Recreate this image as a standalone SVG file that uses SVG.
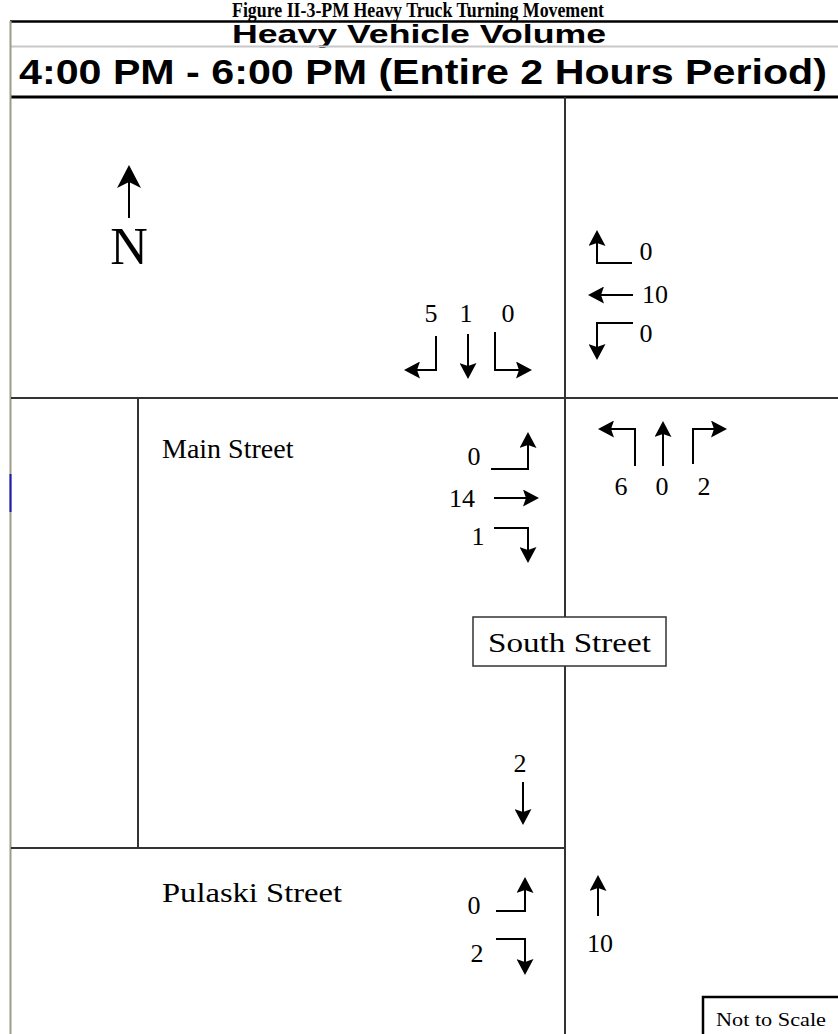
<svg xmlns="http://www.w3.org/2000/svg" width="838" height="1034" viewBox="0 0 838 1034">
<style>
.frame{stroke:#000;stroke-width:2.5;fill:none}
.road{stroke:#333;stroke-width:2;fill:none}
.arr{stroke:#000;stroke-width:2;fill:none;marker-end:url(#ah)}
.num{font-family:"Liberation Serif","Times New Roman",serif;font-size:26px;fill:#000;text-anchor:middle}
.lbl{font-family:"Liberation Serif","Times New Roman",serif;font-size:28px;fill:#000}
</style>
<defs>
<marker id="ah" markerUnits="userSpaceOnUse" viewBox="0 0 16 17" markerWidth="16" markerHeight="17" refX="8" refY="8.5" orient="auto">
<path d="M0,0 L16,8.5 L0,17 L3,8.5 z" fill="#000"/>
</marker>
</defs>
<rect width="838" height="1034" fill="#fff"/>
<g id="header">
<text x="418" y="17" font-family="Liberation Serif, Times New Roman, serif" font-weight="bold" font-size="20" text-anchor="middle" textLength="372" lengthAdjust="spacingAndGlyphs">Figure II-3-PM Heavy Truck Turning Movement</text>
<line class="frame" x1="10" y1="21.5" x2="838" y2="21.5"/>
<text x="419" y="43" font-family="Liberation Sans, Arial, sans-serif" font-weight="bold" font-size="25" text-anchor="middle" textLength="374" lengthAdjust="spacingAndGlyphs">Heavy Vehicle Volume</text>
<line x1="11" y1="46.5" x2="838" y2="46.5" stroke="#c8c8c8" stroke-width="2"/>
<text x="423" y="84" font-family="Liberation Sans, Arial, sans-serif" font-weight="bold" font-size="35" text-anchor="middle" textLength="808" lengthAdjust="spacingAndGlyphs">4:00 PM - 6:00 PM (Entire 2 Hours Period)</text>
<line x1="10" y1="97" x2="838" y2="97" stroke="#000" stroke-width="3"/>
<line x1="10.5" y1="21" x2="10.5" y2="1034" stroke="#9c9c88" stroke-width="2"/>
<line x1="10.5" y1="474" x2="10.5" y2="512" stroke="#1a1ab4" stroke-width="2"/>
</g>
<g id="roads">
<line class="road" x1="565" y1="97" x2="565" y2="1034"/>
<line class="road" x1="11" y1="398" x2="838" y2="398"/>
<line class="road" x1="138" y1="398" x2="138" y2="848"/>
<line class="road" x1="11" y1="848" x2="565" y2="848"/>
</g>
<g id="north">
<line x1="129" y1="182" x2="129" y2="218" stroke="#000" stroke-width="2"/>
<path d="M129,165 L141,188 L129,182 L117,188 z" fill="#000"/>
<text x="129" y="264" font-family="Liberation Serif, Times New Roman, serif" font-size="52" text-anchor="middle">N</text>
</g>
<g id="connectors">
<path class="arr" d="M632,263 H597 V238"/>
<path class="arr" d="M633,295 H596"/>
<path class="arr" d="M633,323 H597 V352"/>
<path class="arr" d="M436,336 V370 H412"/>
<path class="arr" d="M468,334 V371"/>
<path class="arr" d="M495,332 V370 H524"/>
<path class="arr" d="M491,469 H528 V440"/>
<path class="arr" d="M494,498 H531"/>
<path class="arr" d="M494,528 H528 V555"/>
<path class="arr" d="M635,466 V429 H606"/>
<path class="arr" d="M663,466 V429"/>
<path class="arr" d="M693,464 V429 H719"/>
<path class="arr" d="M523,782 V817"/>
<path class="arr" d="M496,911 H525 V885"/>
<path class="arr" d="M496,939 H525 V967"/>
<path class="arr" d="M598,916 V883"/>
</g>
<g id="eastbound-volumes">
<text class="num" x="646" y="260">0</text>
<text class="num" x="655" y="303">10</text>
<text class="num" x="646" y="342">0</text>
</g>
<g id="southbound-volumes">
<text class="num" x="431" y="322">5</text>
<text class="num" x="466" y="322">1</text>
<text class="num" x="508" y="322">0</text>
</g>
<g id="main-street">
<text class="lbl" x="162" y="458">Main Street</text>
<text class="num" x="474" y="465">0</text>
<text class="num" x="462" y="507">14</text>
<text class="num" x="478" y="545">1</text>
</g>
<g id="northbound-volumes">
<text class="num" x="621" y="495">6</text>
<text class="num" x="662" y="495">0</text>
<text class="num" x="704" y="495">2</text>
</g>
<g id="south-street">
<rect x="473" y="617" width="193" height="49" fill="#fff" stroke="#333" stroke-width="1.5"/>
<text class="lbl" x="569.5" y="652" text-anchor="middle" textLength="163" lengthAdjust="spacingAndGlyphs">South Street</text>
<text class="num" x="520" y="772">2</text>
</g>
<g id="pulaski-street">
<text class="lbl" x="162" y="902" textLength="180" lengthAdjust="spacingAndGlyphs">Pulaski Street</text>
<text class="num" x="474" y="914">0</text>
<text class="num" x="477" y="962">2</text>
<text class="num" x="600" y="952">10</text>
</g>
<g id="not-to-scale">
<rect x="703" y="997" width="140" height="40" fill="#fff" stroke="#000" stroke-width="2.5"/>
<text x="716" y="1026" font-family="Liberation Serif, Times New Roman, serif" font-size="19" textLength="110" lengthAdjust="spacingAndGlyphs">Not to Scale</text>
</g>
</svg>
